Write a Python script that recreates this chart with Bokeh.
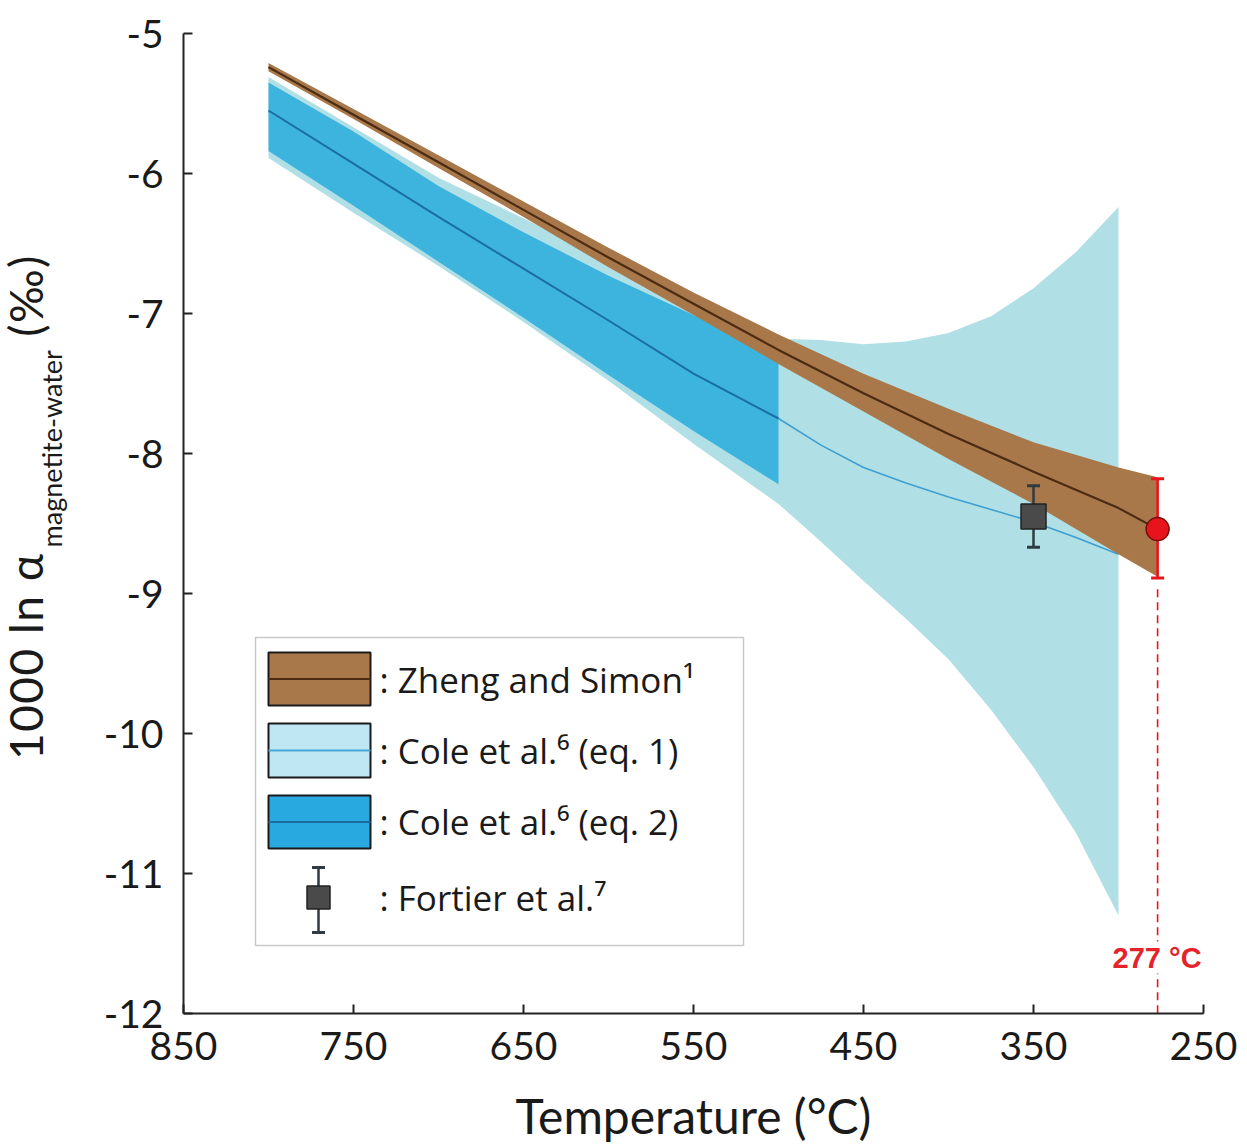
from bokeh.plotting import figure
from bokeh.layouts import row
from bokeh.models import Range1d, FixedTicker, Label, Div
from bokeh.core.properties import value
from bokeh.embed import file_html
from bokeh.resources import INLINE

# ---------------- data ----------------
x_ticks = [850, 750, 650, 550, 450, 350, 250]
y_ticks = [-12, -11, -10, -9, -8, -7, -6, -5]

# Zheng and Simon (brown band)
zs_T = [800, 750, 700, 650, 600, 550, 500, 450, 400, 350, 300, 277]
zs_mid = [-5.24, -5.58, -5.92, -6.26, -6.60, -6.93, -7.26, -7.57, -7.86, -8.13, -8.39, -8.54]
zs_hi = [-5.21, -5.54, -5.87, -6.20, -6.53, -6.85, -7.15, -7.43, -7.68, -7.92, -8.10, -8.17]
zs_lo = [-5.27, -5.61, -5.96, -6.31, -6.67, -7.01, -7.36, -7.70, -8.04, -8.36, -8.72, -8.88]

# Cole et al. eq. 1 (light band)
c1_T = [800, 750, 700, 650, 600, 550, 500, 475, 450, 425, 400, 375, 350, 325, 300]
c1_mid = [-5.56, -5.93, -6.31, -6.68, -7.05, -7.43, -7.75, -7.94, -8.10, -8.21, -8.31, -8.40, -8.49, -8.60, -8.72]
c1_hi = [-5.31, -5.67, -6.03, -6.32, -6.62, -6.91, -7.18, -7.19, -7.22, -7.20, -7.14, -7.02, -6.82, -6.56, -6.24]
c1_lo = [-5.89, -6.28, -6.66, -7.06, -7.48, -7.93, -8.36, -8.63, -8.91, -9.18, -9.47, -9.83, -10.24, -10.71, -11.30]

# Cole et al. eq. 2 (dark band)
c2_T = [800, 750, 700, 650, 600, 550, 500]
c2_mid = [-5.55, -5.93, -6.31, -6.68, -7.05, -7.43, -7.75]
c2_hi = [-5.35, -5.70, -6.09, -6.42, -6.73, -7.01, -7.30]
c2_lo = [-5.84, -6.23, -6.63, -7.03, -7.44, -7.84, -8.22]

# Fortier et al. point
ft_T = [350]
ft_val = [-8.45]
ft_err = [0.22]

# This study (red point)
red_T = [277]
red_val = [-8.54]
red_hi = [-8.18]
red_lo = [-8.89]
red_label = "277 °C"

legend_texts = [": Zheng and Simon\u00b9", ": Cole et al.\u2076 (eq. 1)",
                ": Cole et al.\u2076 (eq. 2)", ": Fortier et al.\u2077"]
ylabel_main = "1000 ln α"
ylabel_sub = "magnetite-water"
ylabel_unit = "(‰)"

# ---------------- styles ----------------
BROWN, BROWN_LINE = "#a8784b", "#4b2b12"
LIGHT, LIGHT_LINE = "#b1dfe6", "#3d9fd2"
DARK, DARK_LINE = "#3db4dd", "#1b6ea3"
RED = "#e8141c"
FORT, FORT_BAR = "#4a4a4a", "#2f3a42"

H = 1147
LW = 75  # width of the side panel holding the y label


# layout helpers: page pixel position -> main plot data coords (legend / labels)
def X(px):
    return 850 - (px - 183) / 1.7


def Y(py):
    return -5 - (py - 33) / 140.0


p = figure(frame_width=1020, frame_height=980,
           x_range=Range1d(850, 250), y_range=Range1d(-12, -5),
           output_backend="svg", toolbar_location=None,
           min_border_left=183 - LW, min_border_top=33, min_border_right=40,
           min_border_bottom=H - 33 - 980)
p.outline_line_color = None
p.xgrid.visible = False
p.ygrid.visible = False
p.background_fill_color = "white"
p.border_fill_color = "white"

p.xaxis.ticker = FixedTicker(ticks=x_ticks)
p.yaxis.ticker = FixedTicker(ticks=y_ticks)
p.yaxis.major_label_overrides = {t: "%d" % t for t in y_ticks}
p.xaxis.major_label_overrides = {t: "%d" % t for t in x_ticks}
for ax in (p.xaxis, p.yaxis):
    ax.axis_line_width = 2
    ax.axis_line_color = "#222222"
    ax.major_tick_line_width = 2
    ax.major_tick_line_color = "#222222"
    ax.major_tick_in = 9
    ax.major_tick_out = 0
    ax.minor_tick_line_color = None
    ax.major_label_text_font = "Lato"
    ax.major_label_text_font_size = "39px"
    ax.major_label_text_color = "#1a1a1a"
p.yaxis.major_label_standoff = 20
p.xaxis.major_label_standoff = 18
p.xaxis.axis_label = "Temperature (°C)"
p.xaxis.axis_label_text_font = "Lato"
p.xaxis.axis_label_text_font_size = "48px"
p.xaxis.axis_label_text_font_style = "normal"
p.xaxis.axis_label_text_color = "#1a1a1a"
p.xaxis.axis_label_standoff = 24

# ---------------- bands and lines ----------------
p.varea(x=c1_T, y1=c1_lo, y2=c1_hi, fill_color=LIGHT)
p.line(c1_T, c1_mid, line_color=LIGHT_LINE, line_width=1.6)
p.varea(x=c2_T, y1=c2_lo, y2=c2_hi, fill_color=DARK)
p.line(c2_T, c2_mid, line_color=DARK_LINE, line_width=2)
p.varea(x=zs_T, y1=zs_lo, y2=zs_hi, fill_color=BROWN)
p.line(zs_T, zs_mid, line_color=BROWN_LINE, line_width=2.2)

# Fortier point with error bar
ft_hi = [v + e for v, e in zip(ft_val, ft_err)]
ft_lo = [v - e for v, e in zip(ft_val, ft_err)]
p.segment(x0=ft_T, y0=ft_lo, x1=ft_T, y1=ft_hi, line_color=FORT_BAR, line_width=2.5)
p.scatter(ft_T * 2, ft_hi + ft_lo, marker="dash", size=13, line_color=FORT_BAR, line_width=3)
p.scatter(ft_T, ft_val, marker="square", size=25, fill_color=FORT, line_color="#222222", line_width=1.5)

# red point, error bar, dashed guide
p.segment(x0=red_T, y0=[v - 0.08 for v in red_lo], x1=red_T, y1=[-12] * len(red_T),
          line_color=RED, line_width=1.6, line_dash="8 5")
p.segment(x0=red_T, y0=red_lo, x1=red_T, y1=red_hi, line_color=RED, line_width=2.6)
p.scatter(red_T * 2, red_hi + red_lo, marker="dash", size=13, line_color=RED, line_width=3)
p.scatter(red_T, red_val, marker="circle", size=23, fill_color=RED, line_color="#7a0a0a", line_width=1.5)
p.add_layout(Label(x=red_T[0], y=Y(957), text=red_label, text_align="right",
                   text_baseline="middle", x_offset=44, text_font="Liberation Sans",
                   text_font_style="bold", text_font_size="29px", text_color="#e3242b",
                   background_fill_color="white"))

# ---------------- legend (drawn manually) ----------------
p.quad(left=X(255), right=X(743), top=Y(637), bottom=Y(945),
       fill_color="white", line_color="#c9c9c9", line_width=1.5)
sw_top = [652, 723, 795]
sw_bot = [705, 777, 848]
sw_fill = [BROWN, "#bfe6f3", "#28a9e0"]
sw_line = [BROWN_LINE, "#4aa6d8", "#1a6c9e"]
for t, b, f, lc in zip(sw_top, sw_bot, sw_fill, sw_line):
    p.quad(left=X(268), right=X(370), top=Y(t), bottom=Y(b),
           fill_color=f, line_color="#1a1a1a", line_width=2)
    m = Y((t + b) / 2)
    p.segment(x0=X(268), y0=m, x1=X(370), y1=m, line_color=lc, line_width=2)
lx = X(318)
p.segment(x0=lx, y0=Y(867), x1=lx, y1=Y(932), line_color=FORT_BAR, line_width=2.5)
p.scatter([lx, lx], [Y(867), Y(932)], marker="dash", size=13, line_color=FORT_BAR, line_width=3)
p.scatter([lx], [Y(897)], marker="square", size=23, fill_color=FORT, line_color="#222222", line_width=1.5)
p.text(x=[X(379)] * 4, y=[Y(679), Y(750), Y(821), Y(897)], text=legend_texts,
       text_font=value("Open Sans"), text_font_size="35px", text_color="#1a1a1a",
       text_baseline="middle", text_align="left")

# ---------------- y axis label (with subscript) as rotated HTML text ----------------
ylabel_html = (
    '<div style="position:relative;width:%dpx;height:%dpx;overflow:visible;">'
    '<div style="position:absolute;left:3px;top:760px;transform:rotate(-90deg);'
    'transform-origin:0 0;white-space:nowrap;font-family:Lato;font-size:46px;'
    'line-height:1;color:#1a1a1a;letter-spacing:1.5px;">'
    '%s<span style="font-size:27px;letter-spacing:0;vertical-align:-19px;'
    'margin-left:5px;">%s</span> %s</div></div>'
) % (LW, H, ylabel_main, ylabel_sub, ylabel_unit)
q = Div(text=ylabel_html, width=LW, height=H, margin=0)

open("out.html", "w").write(file_html(row(q, p), INLINE))
